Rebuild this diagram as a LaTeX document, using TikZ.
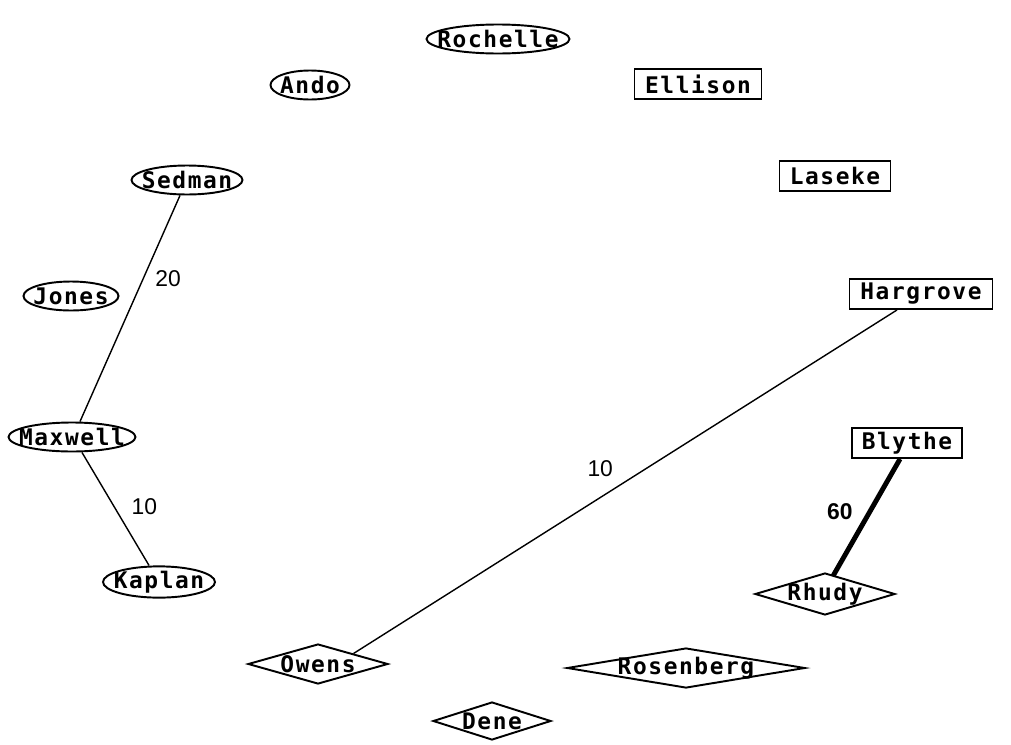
\documentclass[tikz,border=0pt]{standalone}
\usepackage{fontspec}
\usepackage{tikz}
\usetikzlibrary{shapes.geometric, positioning, calc}
\newfontfamily\namefont[LetterSpace=7]{DejaVu Sans Mono Bold}
\newfontfamily\numfont{Liberation Sans}

\begin{document}
\begin{tikzpicture}[
    x=0.02cm, y=-0.02cm,
    namebox/.style={rectangle, draw, line width=1.1pt, inner sep=0pt, minimum height=0.6cm, font=\namefont\fontsize{13pt}{14pt}\selectfont},
    nameoval/.style={ellipse, draw, line width=1.1pt, inner ysep=0pt, inner xsep=-16pt, minimum height=0.58cm, font=\namefont\fontsize{13pt}{14pt}\selectfont},
    namediam/.style={diamond, draw, line width=1.1pt, inner ysep=0pt, inner xsep=-10pt, minimum height=0.8cm, font=\namefont\fontsize{13pt}{14pt}\selectfont},
    link/.style={draw, line width=0.8pt},
    weight/.style={font=\numfont\fontsize{13pt}{14pt}\selectfont, inner sep=1pt}
]
\useasboundingbox (0,0) rectangle (1011,744);

% Ellipse nodes
\node[nameoval, minimum width=2.86cm] (rochelle) at (498,39) {Rochelle};
\node[nameoval, minimum width=1.58cm] (ando) at (310,85) {Ando};
\node[nameoval, minimum width=2.22cm] (sedman) at (187,180) {Sedman};
\node[nameoval, minimum width=1.90cm] (jones) at (71,296) {Jones};
\node[nameoval, minimum width=2.54cm] (maxwell) at (72,437) {Maxwell};
\node[nameoval, minimum width=2.24cm] (kaplan) at (159,582) {Kaplan};

% Box nodes
\node[namebox, minimum width=2.54cm] (ellison) at (698,84) {Ellison};
\node[namebox, minimum width=2.22cm] (laseke) at (835,176) {Laseke};
\node[namebox, minimum width=2.86cm] (hargrove) at (921,294) {Hargrove};
\node[namebox, minimum width=2.20cm] (blythe) at (907,443) {Blythe};

% Diamond nodes
\node[namediam, aspect=3.3, minimum width=2.80cm, minimum height=0.84cm] (rhudy) at (825,594) {Rhudy};
\node[namediam, aspect=3.5, minimum width=2.80cm] (owens) at (318,664) {Owens};
\node[namediam, aspect=6, minimum width=4.76cm] (rosenberg) at (686,668) {Rosenberg};
\node[namediam, aspect=3.1, minimum width=2.36cm, minimum height=0.76cm] (dene) at (492,721) {Dene};

% Links with weights
\draw[link] ([xshift=-0.14cm]sedman.south) -- ([xshift=0.16cm]maxwell.north)
    node[weight, pos=0.37, right=0.2cm] {20};
\draw[link] ([xshift=0.2cm]maxwell.south) -- ([xshift=-0.2cm]kaplan.north)
    node[weight, pos=0.48, right=0.3cm] {10};
\draw[link] ([xshift=-0.48cm]hargrove.south) -- (owens.north east)
    node[weight, pos=0.546, above=0.36cm] {10};
\draw[link, line width=2.8pt] ([xshift=-0.14cm]blythe.south) -- ([xshift=0.16cm, yshift=-0.08cm]rhudy.north)
    node[weight, font=\numfont\bfseries\fontsize{13pt}{14pt}\selectfont, pos=0.45, left=0.26cm] {60};

\end{tikzpicture}
\end{document}
